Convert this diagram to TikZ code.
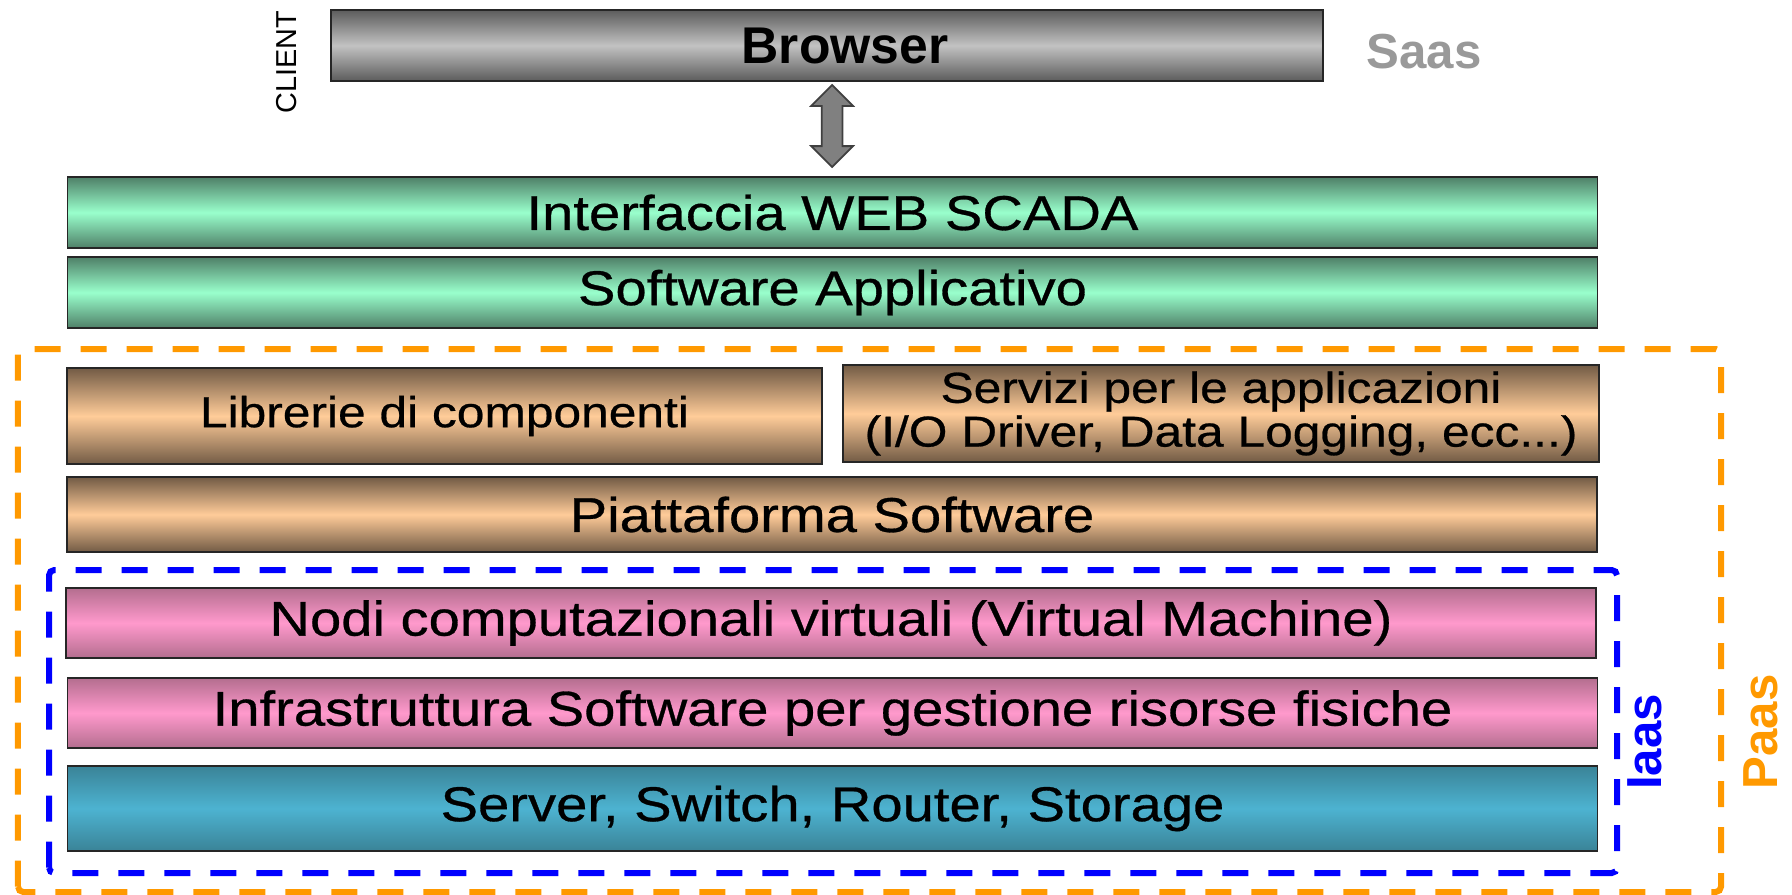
\documentclass[tikz,border=0pt]{standalone}
\usepackage{fontspec}
\setmainfont{Liberation Sans}
\newfontfamily\layerfont{Liberation Sans}[FakeStretch=1.15, FakeBold=0.6]
\usepackage{tikz}
\usetikzlibrary{shapes.arrows}
\definecolor{saasgray}{HTML}{999999}
\definecolor{paasorange}{HTML}{FF9900}
\definecolor{iaasblue}{HTML}{0000FF}
\definecolor{greylight}{HTML}{C2C2C2}
\definecolor{greydark}{HTML}{5C5C5C}
\definecolor{mintlight}{HTML}{99FFCC}
\definecolor{mintdark}{HTML}{4F8068}
\definecolor{tanlight}{HTML}{FFCC99}
\definecolor{tandark}{HTML}{725B45}
\definecolor{pinklight}{HTML}{FF99CC}
\definecolor{pinkdark}{HTML}{B46E8F}
\definecolor{cyanlight}{HTML}{4DB3D1}
\definecolor{cyandark}{HTML}{3A8397}
\tikzstyle{layer} = [rectangle, inner sep=0pt, outer sep=0pt, minimum height=0.71cm, minimum width=15.3cm, text centered, draw=black!85, line width=0.5pt, font=\layerfont\fontsize{13.9}{16}\selectfont]
\tikzstyle{client} = [layer, top color=greydark, bottom color=greydark, middle color=greylight, font=\bfseries\fontsize{14.7}{17}\selectfont]
\tikzstyle{saas} = [layer, top color=mintdark, bottom color=mintdark, middle color=mintlight]
\tikzstyle{paas} = [layer, top color=tandark, bottom color=tandark, middle color=tanlight]
\tikzstyle{small} = [font=\layerfont\fontsize{12.3}{10.9}\selectfont, align=center]
\tikzstyle{iaas} = [layer, top color=pinkdark, bottom color=pinkdark, middle color=pinklight]
\tikzstyle{metal} = [layer, top color=cyandark, bottom color=cyandark, middle color=cyanlight]
\tikzstyle{tag} = [inner sep=0pt, font=\bfseries\fontsize{14}{16}\selectfont]
\tikzstyle{frame} = [line width=0.06cm, dash pattern=on 0.26cm off 0.2cm, rounded corners=1.5pt]
\tikzstyle{updown} = [double arrow, rotate=90, inner xsep=0pt, inner ysep=0.095cm, minimum height=0.82cm, minimum width=0.40cm, double arrow head extend=0.105cm, double arrow head indent=0cm, fill=black!50, draw=black!75, line width=0.5pt]

\begin{document}
\begin{tikzpicture}[node distance=0.8cm]
	\useasboundingbox (0,0) rectangle (17.92,8.94);
	\draw [frame, paasorange] (0.18,0.02) rectangle (17.21,5.45);
	\draw [frame, iaasblue] (0.49,0.21) rectangle (16.17,3.24);
	\node (browser) [client, minimum width=9.92cm] at (8.27,8.485) {\hspace{0.36cm}Browser};
	\node (web) [saas] at (8.325,6.815) {Interfaccia WEB SCADA};
	\node (app) [saas] at (8.325,6.015) {Software Applicativo};
	\node (lib) [paas, small, minimum width=7.55cm, minimum height=0.96cm] at (4.445,4.78) {Librerie di componenti};
	\node (serv) [paas, small, minimum width=7.56cm, minimum height=0.97cm] at (12.21,4.805) {Servizi per le applicazioni\\(I/O Driver, Data Logging, ecc...)};
	\node (plat) [paas, minimum height=0.75cm] at (8.32,3.795) {Piattaforma Software};
	\node (vm) [iaas, minimum height=0.70cm] at (8.31,2.71) {Nodi computazionali virtuali (Virtual Machine)};
	\node (infra) [iaas, minimum height=0.70cm] at (8.325,1.81) {Infrastruttura Software per gestione risorse fisiche};
	\node (hw) [metal, minimum height=0.85cm] at (8.325,0.855) {Server, Switch, Router, Storage};
	\node (link) [updown] at (8.32,7.68) {};
	\node (client) [inner sep=0pt, rotate=90, font=\fontsize{8.2}{10}\selectfont] at (2.87,8.32) {CLIENT};
	\node (saaslbl) [tag, text=saasgray] at (14.24,8.42) {Saas};
	\node (iaaslbl) [tag, text=iaasblue, rotate=90] at (16.45,1.52) {Iaas};
	\node (paaslbl) [tag, text=paasorange, rotate=90] at (17.61,1.62) {Paas};
\end{tikzpicture}
\end{document}
